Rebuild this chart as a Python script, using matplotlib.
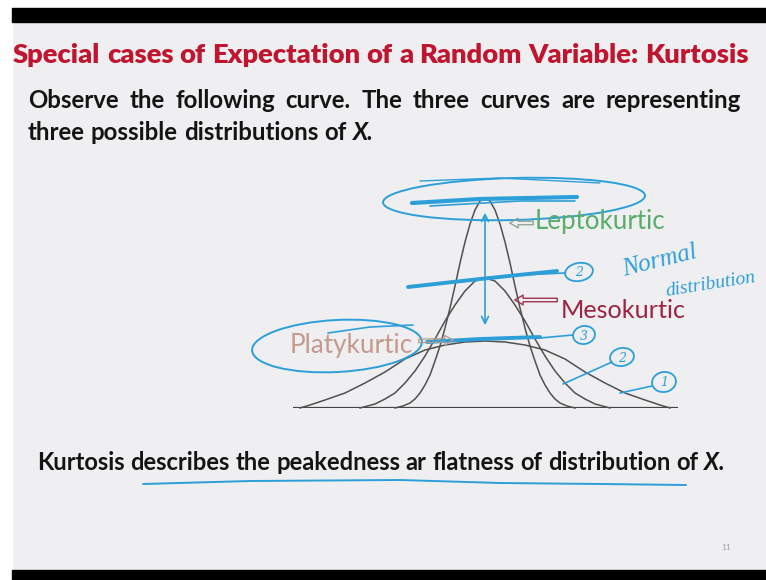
import matplotlib
matplotlib.use("Agg")
import matplotlib.pyplot as plt
from matplotlib.patches import Ellipse, Rectangle
import numpy as np

# right half of each curve: distance from the centre and height above the base line
lepto_offset = [0, 5, 10, 15, 20, 25, 30, 35, 40, 45, 50, 55, 60, 65, 70, 75, 82, 90]
lepto_height = [210, 207, 198, 184, 166, 145, 122, 100, 80, 62, 47, 33, 23, 15, 9, 5, 2, 0]
meso_offset = [0, 10, 20, 30, 40, 50, 60, 70, 80, 90, 100, 110, 125]
meso_height = [130, 127, 117, 103, 87, 69, 52, 37, 25, 15, 9, 4, 0]
platy_offset = [0, 20, 40, 60, 80, 100, 120, 140, 160, 175, 185]
platy_height = [67, 66, 63, 58, 49, 36, 25, 15, 8, 3, 0]

curve_names = ["Leptokurtic", "Mesokurtic", "Platykurtic"]
title = "Special cases of Expectation of a Random Variable: Kurtosis"
intro_line1 = "Observe the following curve. The three curves are representing"
intro_line2 = "three possible distributions of"
summary = "Kurtosis describes the peakedness ar flatness of distribution of"
page_no = "11"

FONT = "Lato"
BG = "#efeff1"
BLUE = "#2c9fd8"
INK = "#141414"

fig = plt.figure(figsize=(7.66, 5.8), dpi=100, facecolor=BG)
W, H = 766, 580

# axes for the three curves, one data unit = one pixel
cx, base_y = 485, 408
ax = fig.add_axes([(cx - 192) / W, (H - base_y) / H, 385 / W, 215 / H])
ax.set_xlim(-192, 193)
ax.set_ylim(0, 215)
ax.axis("off")
ax.axhline(0, color="#444444", lw=1.6)
for off, hgt in [(lepto_offset, lepto_height), (meso_offset, meso_height),
                 (platy_offset, platy_height)]:
    off = np.array(off)
    hgt = np.array(hgt)
    xs = np.concatenate([-off[::-1], off[1:]])
    ys = np.concatenate([hgt[::-1], hgt[1:]])
    ax.plot(xs, ys, color="#505050", lw=1.1, clip_on=False)

# overlay in pixel coordinates for the slide text and pen marks
ov = fig.add_axes([0, 0, 1, 1], zorder=5)
ov.set_xlim(0, W)
ov.set_ylim(H, 0)
ov.axis("off")
ov.patch.set_alpha(0)

# screen frame
ov.add_patch(Rectangle((0, 0), W, 8, color="white", zorder=0))
ov.add_patch(Rectangle((0, 0), 12, H, color="white", zorder=0))
ov.add_patch(Rectangle((12, 8), W, 14, color="black", zorder=0))
ov.add_patch(Rectangle((12, 570), W, 10, color="black", zorder=0))

renderer = fig.canvas.get_renderer()


def width_of(s, size, style="normal", weight="bold"):
    t = ov.text(0, 0, s, fontsize=size, style=style, weight=weight, family=FONT)
    w = t.get_window_extent(renderer).width
    t.remove()
    return w


def put_words(words, x0, y, size, color, x1=None, weight="bold"):
    widths = [width_of(w, size, st, weight) for w, st in words]
    gap = width_of("n n", size, weight=weight) - width_of("nn", size, weight=weight)
    if x1 is not None:
        gap = (x1 - x0 - sum(widths)) / (len(words) - 1)
    x = x0
    for (w, st), wd in zip(words, widths):
        ov.text(x, y, w, fontsize=size, style=st, weight=weight, family=FONT,
                color=color, va="baseline", ha="left")
        x += wd + gap


def fitted_size(words, target, weight="bold"):
    size = 12
    gap = width_of("n n", size, weight=weight) - width_of("nn", size, weight=weight)
    total = sum(width_of(w, size, st, weight) for w, st in words) + gap * (len(words) - 1)
    return size * target / total


# title
t_words = [(w, "normal") for w in title.split()]
put_words(t_words, 13, 63, fitted_size(t_words, 732, weight="heavy"), "#c0152f", weight="heavy")

# intro paragraph
l2_words = [(w, "normal") for w in intro_line2.split()] + [("X.", "italic")]
body_size = fitted_size(l2_words, 342)
put_words([(w, "normal") for w in intro_line1.split()], 28, 108, body_size, INK, x1=741)
put_words(l2_words, 28, 140, body_size, INK)

# closing sentence
s_words = [(w, "normal") for w in summary.split()] + [("X.", "italic")]
put_words(s_words, 37, 470, fitted_size(s_words, 686), INK)
ov.text(721, 547, page_no, fontsize=6, color="#a0a0a0", family=FONT, ha="left", va="center")

# curve names with their pointers
label_specs = [(535, 229, 130, "#58ad68"), (561, 318, 125, "#9b2545"), (290, 353, 123, "#c49a8c")]
for name, (lx, ly, lw_px, col) in zip(curve_names, label_specs):
    size = fitted_size([(name, "normal")], lw_px, weight="normal")
    ov.text(lx, ly, name, fontsize=size, color=col, family=FONT, va="baseline")

arrow_style = "simple,head_width=0.7,head_length=0.6,tail_width=0.25"
ov.annotate("", xy=(507, 223), xytext=(536, 223),
            arrowprops=dict(arrowstyle=arrow_style, fc="none", ec="#8aa08a", lw=0.9))
ov.annotate("", xy=(512, 300), xytext=(560, 300),
            arrowprops=dict(arrowstyle=arrow_style, fc="none", ec="#a03050", lw=1.0))
ov.annotate("", xy=(456, 340), xytext=(416, 341),
            arrowprops=dict(arrowstyle=arrow_style, fc="none", ec="#b89888", lw=0.9))

# pen marks
pen = dict(color=BLUE, solid_capstyle="round")
ov.add_patch(Ellipse((514, 199), 262, 42, angle=-1.5, fill=False, ec=BLUE, lw=1.4))
ov.plot([420, 500, 600], [181, 178, 183], lw=1.0, **pen)
ov.plot([412, 480, 577], [203, 199, 197], lw=3.0, **pen)
ov.plot([430, 520, 575], [206, 201, 201], lw=1.2, **pen)
ov.annotate("", xy=(485, 210), xytext=(485, 328),
            arrowprops=dict(arrowstyle="<->,head_width=0.25,head_length=0.5", color=BLUE, lw=1.2))

ov.plot([408, 480, 557], [287, 279, 271], lw=2.8, **pen)
ov.plot([500, 565], [276, 273], lw=1.2, **pen)

ov.add_patch(Ellipse((337, 346), 170, 52, angle=-3, fill=False, ec=BLUE, lw=1.4))
ov.plot([328, 370, 413], [333, 327, 325], lw=1.2, **pen)
ov.plot([427, 480, 540], [342, 339, 337], lw=2.8, **pen)
ov.plot([540, 573], [338, 335], lw=1.2, **pen)
ov.plot([563, 612], [384, 362], lw=1.2, **pen)
ov.plot([620, 652], [393, 386], lw=1.2, **pen)

# circled numbers
for (ex, ey, ew, eh), digit in zip([(579, 272, 28, 18), (584, 335, 22, 18),
                                    (622, 357, 24, 18), (664, 382, 24, 20)],
                                   ["2", "3", "2", "1"]):
    ov.add_patch(Ellipse((ex, ey), ew, eh, angle=-10, fill=False, ec=BLUE, lw=1.3))
    ov.text(ex, ey + 1, digit, fontsize=9, color=BLUE, ha="center", va="center",
            family="DejaVu Serif", style="italic")

ov.text(620, 276, "Normal", fontsize=18, color=BLUE, family="Liberation Serif",
        style="italic", rotation=14, va="baseline")
ov.text(664, 296, "distribution", fontsize=14, color=BLUE, family="Liberation Serif",
        style="italic", rotation=9, va="baseline")

ov.plot([143, 250, 400, 500, 600, 686], [484, 481, 480, 483, 484, 485], lw=1.4, **pen)

fig.savefig("out.png", dpi=100, facecolor=BG)
